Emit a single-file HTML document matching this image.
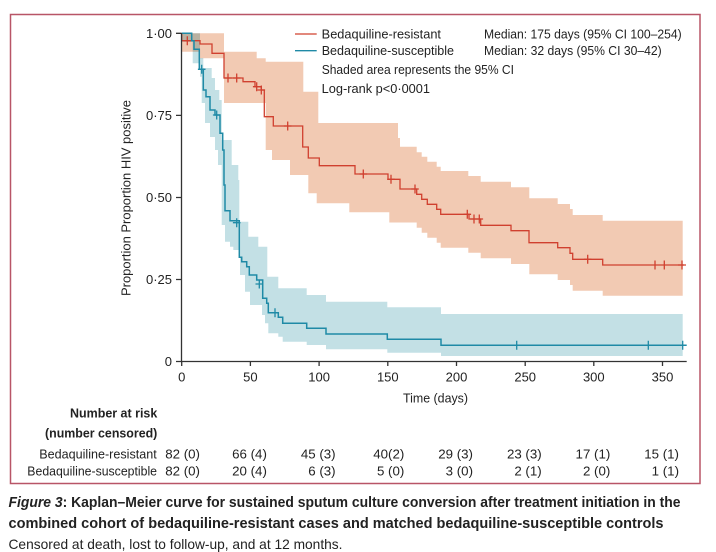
<!DOCTYPE html>
<html>
<head>
<meta charset="utf-8">
<style>
html,body{margin:0;padding:0;background:#fff;}
body{width:716px;height:552px;overflow:hidden;}
svg{display:block;}
text{font-family:"Liberation Sans",sans-serif;fill:#222;}
</style>
</head>
<body>
<svg width="716" height="552" viewBox="0 0 716 552" xmlns="http://www.w3.org/2000/svg">
<rect x="0" y="0" width="716" height="552" fill="#ffffff"/>
<!-- frame -->
<rect x="10.5" y="14.5" width="689.5" height="469" fill="none" stroke="#b85567" stroke-width="1.5"/>

<!-- red CI band -->
<polygon fill="#f2cab3" points="181.7,33.3 224,33.3 224,51.7 256.7,51.7 256.7,58.3 265.7,58.3 265.7,61.7 303.3,61.7 303.3,91.7 318.3,91.7 318.3,123 398,123 398,138 400,138 400,146.7 416.7,146.7 416.7,152.3 421.7,152.3 421.7,156.7 427.3,156.7 427.3,161.7 436.7,161.7 436.7,166.7 440.7,166.7 440.7,171 468.3,171 468.3,176 480.7,176 480.7,181.7 511,181.7 511,187.3 529.3,187.3 529.3,198.3 557.7,198.3 557.7,204 570,204 570,209 572.7,209 572.7,215 602.7,215 602.7,220.7 682.7,220.7 682.7,295.7 602.7,295.7 602.7,290.7 572.7,290.7 572.7,285 570,285 570,280 557.7,280 557.7,274.3 529.3,274.3 529.3,264 511,264 511,258.3 480.7,258.3 480.7,252.7 468.3,252.7 468.3,247.7 440.7,247.7 440.7,242.7 436.7,242.7 436.7,237.7 427.3,237.7 427.3,232.7 421.7,232.7 421.7,227.7 416.7,227.7 416.7,222.5 389.3,222.5 389.3,212.3 349.3,212.3 349.3,203.3 316.7,203.3 316.7,193.3 308.3,193.3 308.3,175 290,175 290,160 272,160 272,150 265.7,150 265.7,103 224,103 224,58.3 200,58.3 200,51.7 181.7,51.7"/>

<!-- blue CI band -->
<polygon fill="#c3e0e5" style="mix-blend-mode:multiply" points="181.7,33.3 200,33.3 200,58 203.3,58 203.3,68 211.7,68 211.7,78 215,78 215,90 219.3,90 219.3,100 221.7,100 221.7,140 231.7,140 231.7,165 238.3,165 238.3,180 239.3,180 239.3,221.7 248.3,221.7 248.3,236.7 258.3,236.7 258.3,246.7 267.3,246.7 267.3,276.7 278.3,276.7 278.3,288.3 306.7,288.3 306.7,295 326,295 326,301.7 387.3,301.7 387.3,307.3 441,307.3 441,314 682.7,314 682.7,356 441,356 441,352.7 387.3,352.7 387.3,349.3 326,349.3 326,345 306.7,345 306.7,341.7 282.7,341.7 282.7,336.7 278.3,336.7 278.3,333.3 268.3,333.3 268.3,323.3 265,323.3 265,315 262,315 262,305 250,305 250,291.7 245,291.7 245,275 240,275 240,250 233.3,250 233.3,246.7 230,246.7 230,241.7 225,241.7 225,225 221.7,225 221.7,165 218,165 218,150 215,150 215,137 210,137 210,123 205,123 205,103 201.7,103 201.7,76.7 200,76.7 200,63.3 192.7,63.3 192.7,41.7 181.7,41.7"/>

<!-- red curve -->
<path fill="none" stroke="#d0402f" stroke-width="1.3" d="M181.7,33.3 V40.7 H200 V44 H212 V53.3 H224 V78 H243 V81.7 H255 V86.7 H261.3 V90 H264.3 V116.7 H273.3 V126 H302.7 V147 H308.3 V158 H319.3 V165.7 H355 V174 H388 V179.3 H400 V189 H416.7 V194.3 H421.7 V199.3 H427.3 V204.3 H436.7 V209.3 H440.7 V214.3 H469 V219 H480.7 V225.3 H511 V230.7 H529 V242.7 H557.7 V247.7 H570 V253.3 H572.7 V259.3 H602.7 V265 H684"/>
<!-- red censor marks -->
<path fill="none" stroke="#d0402f" stroke-width="1.3" d="M187.3,36.2v9 M183.5,40.7h7.6 M228,73.5v9 M224.2,78h7.6 M236.7,73.5v9 M232.9,78h7.6 M256.7,82.2v9 M252.9,86.7h7.6 M261.3,85.5v9 M257.5,90h7.6 M287.7,121.5v9 M283.9,126h7.6 M363.3,169.5v9 M359.5,174h7.6 M391,174.8v9 M387.2,179.3h7.6 M415,184.5v9 M411.2,189h7.6 M467.3,209.8v9 M463.5,214.3h7.6 M474,214.5v9 M470.2,219h7.6 M479.3,214.5v9 M475.5,219h7.6 M587.7,254.8v9 M583.9,259.3h7.6 M655,260.5v9 M664.3,260.5v9 M682,260.5v9 M678,265h8"/>

<!-- blue curve -->
<path fill="none" stroke="#1f8aa6" stroke-width="1.5" d="M181.7,33.3 H191.7 V40.7 H194 V49.3 H199.3 V69.3 H203.3 V90 H206 V96.7 H210 V110 H215 V115 H220 V133.3 H222.7 V150 H224 V185 H225 V210.7 H230 V220.7 H239.3 V257.3 H241.7 V261.7 H246.7 V266.7 H249.3 V275 H256.7 V280 H262.7 V298.3 H266.7 V303.3 H268.3 V312.7 H278.3 V317.3 H282.7 V323.3 H306.7 V328.3 H326 V334 H387.3 V339.3 H441 V345.3 H686.7"/>
<!-- blue censor marks -->
<path fill="none" stroke="#1f8aa6" stroke-width="1.3" d="M201.7,64.8v9 M197.9,69.3h7.6 M216.7,110.5v9 M212.9,115h7.6 M236.7,218.2v9 M232.9,222.7h7.6 M259.3,279.5v9 M255.5,284h7.6 M275,308.2v9 M271.2,312.7h7.6 M516.7,340.8v9 M648.3,340.8v9 M682.7,340.8v9"/>

<!-- axes -->
<g stroke="#333" stroke-width="1.3" fill="none">
<path d="M181.5,33 V361.5 H686.7"/>
<path d="M176,33.3 H181.5 M176,115.4 H181.5 M176,197.5 H181.5 M176,279.5 H181.5 M176,361.5 H181.5"/>
<path d="M181.7,361.5 V366 M250.4,361.5 V366 M319.1,361.5 V366 M387.8,361.5 V366 M456.5,361.5 V366 M525.2,361.5 V366 M593.8,361.5 V366 M662.5,361.5 V366"/>
</g>

<!-- y tick labels -->
<g font-size="13" text-anchor="end">
<text x="172" y="38">1·00</text>
<text x="172" y="120">0·75</text>
<text x="172" y="202">0·50</text>
<text x="172" y="284">0·25</text>
<text x="172" y="366">0</text>
</g>
<!-- x tick labels -->
<g font-size="13" text-anchor="middle">
<text x="181.7" y="381.5">0</text>
<text x="250.4" y="381.5">50</text>
<text x="319.1" y="381.5">100</text>
<text x="387.8" y="381.5">150</text>
<text x="456.5" y="381.5">200</text>
<text x="525.2" y="381.5">250</text>
<text x="593.8" y="381.5">300</text>
<text x="662.5" y="381.5">350</text>
</g>
<text x="403" y="402.5" font-size="13" textLength="65" lengthAdjust="spacingAndGlyphs">Time (days)</text>
<text transform="translate(130.5,198) rotate(-90)" font-size="13" text-anchor="middle" textLength="196" lengthAdjust="spacingAndGlyphs">Proportion Proportion HIV positive</text>

<!-- legend -->
<path d="M295,34 H316.7" stroke="#d0402f" stroke-width="1.3"/>
<path d="M295,50.7 H316.7" stroke="#1f8aa6" stroke-width="1.3"/>
<g font-size="12.7">
<text x="321.7" y="38.5" textLength="119.3" lengthAdjust="spacingAndGlyphs">Bedaquiline-resistant</text>
<text x="321.7" y="55.2" textLength="132.3" lengthAdjust="spacingAndGlyphs">Bedaquiline-susceptible</text>
<text x="484" y="38.5" textLength="197.7" lengthAdjust="spacingAndGlyphs">Median: 175 days (95% CI 100–254)</text>
<text x="484" y="55.2" textLength="177.7" lengthAdjust="spacingAndGlyphs">Median: 32 days (95% CI 30–42)</text>
<text x="321.7" y="73.8" textLength="192.3" lengthAdjust="spacingAndGlyphs">Shaded area represents the 95% CI</text>
<text x="321.7" y="92.8" textLength="108.3" lengthAdjust="spacingAndGlyphs">Log-rank p&lt;0·0001</text>
</g>

<!-- risk table -->
<g font-size="13">
<text x="70" y="417.5" font-weight="bold" textLength="87.3" lengthAdjust="spacingAndGlyphs">Number at risk</text>
<text x="45" y="437.5" font-weight="bold" textLength="112.3" lengthAdjust="spacingAndGlyphs">(number censored)</text>
<text x="39.3" y="458.5" textLength="117.4" lengthAdjust="spacingAndGlyphs">Bedaquiline-resistant</text>
<text x="27.3" y="475.5" textLength="129.7" lengthAdjust="spacingAndGlyphs">Bedaquiline-susceptible</text>
</g>
<g font-size="13.3" text-anchor="end">
<text x="200" y="458.5">82 (0)</text>
<text x="266.9" y="458.5">66 (4)</text>
<text x="335.6" y="458.5">45 (3)</text>
<text x="404.3" y="458.5">40(2)</text>
<text x="473" y="458.5">29 (3)</text>
<text x="541.7" y="458.5">23 (3)</text>
<text x="610.3" y="458.5">17 (1)</text>
<text x="679" y="458.5">15 (1)</text>
<text x="200" y="475.5">82 (0)</text>
<text x="266.9" y="475.5">20 (4)</text>
<text x="335.6" y="475.5">6 (3)</text>
<text x="404.3" y="475.5">5 (0)</text>
<text x="473" y="475.5">3 (0)</text>
<text x="541.7" y="475.5">2 (1)</text>
<text x="610.3" y="475.5">2 (0)</text>
<text x="679" y="475.5">1 (1)</text>
</g>

<!-- caption -->
<text x="8.5" y="507" font-size="14.5" font-weight="bold" textLength="672" lengthAdjust="spacingAndGlyphs"><tspan font-style="italic">Figure 3</tspan>: Kaplan–Meier curve for sustained sputum culture conversion after treatment initiation in the</text>
<text x="8.5" y="528" font-size="14.5" font-weight="bold" textLength="655" lengthAdjust="spacingAndGlyphs">combined cohort of bedaquiline-resistant cases and matched bedaquiline-susceptible controls</text>
<text x="8.5" y="549" font-size="14" textLength="334" lengthAdjust="spacingAndGlyphs">Censored at death, lost to follow-up, and at 12 months.</text>
</svg>
</body>
</html>
